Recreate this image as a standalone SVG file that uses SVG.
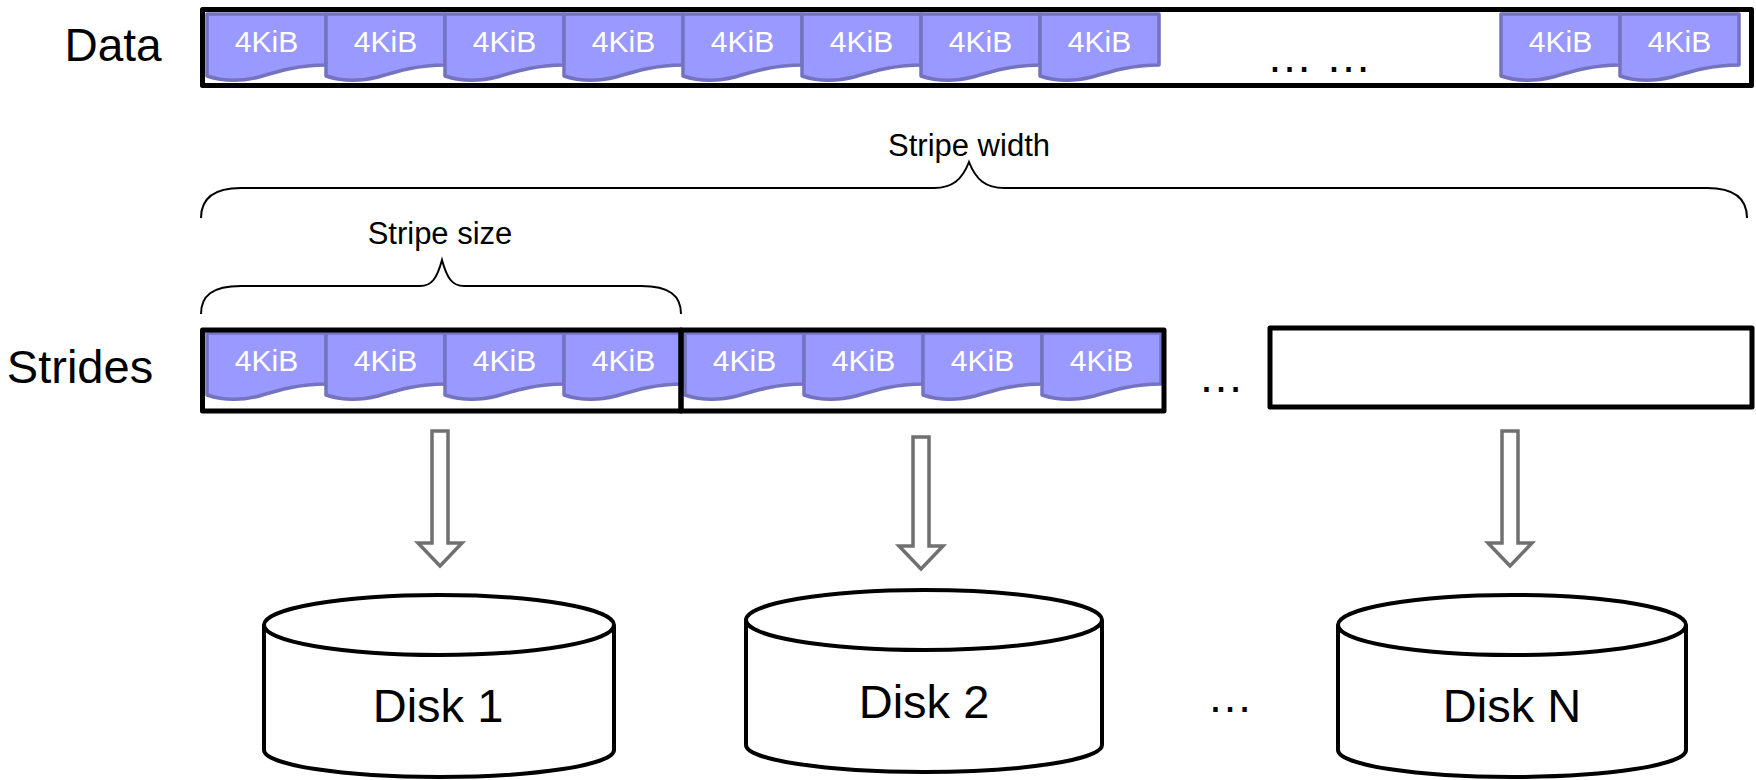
<svg xmlns="http://www.w3.org/2000/svg" width="1756" height="780" viewBox="0 0 1756 780">
<defs>
<path id="blk" d="M0,0 H119 V51 C92,51 72,57 52,63 C36,67 18,68 0,62 Z"/>
<g id="b4">
<use href="#blk" class="blk"/>
<text x="59.5" y="38" class="bt">4KiB</text>
</g>
</defs>
<style>
.blk{fill:#9999FF;stroke:#7373BF;stroke-width:3.5;stroke-linejoin:round}
.bt{font-family:"Liberation Sans",Arial,sans-serif;font-size:30px;fill:#FFFFFF;text-anchor:middle}
.lbl{font-family:"Liberation Sans",Arial,sans-serif;fill:#000;text-anchor:middle}
.box{fill:none;stroke:#000;stroke-width:5;stroke-linejoin:round}
.brace{fill:none;stroke:#000;stroke-width:2}
.arrow{fill:#FFFFFF;stroke:#707070;stroke-width:3.5}
.disk{fill:#FFFFFF;stroke:#000;stroke-width:4}
</style>
<rect width="1756" height="780" fill="#FFFFFF"/>

<g id="data">
<text x="113" y="61" class="lbl" font-size="46">Data</text>
<rect x="202.5" y="9.5" width="1549" height="76" class="box"/>
<use href="#b4" x="207" y="14"/>
<use href="#b4" x="326" y="14"/>
<use href="#b4" x="445" y="14"/>
<use href="#b4" x="564" y="14"/>
<use href="#b4" x="683" y="14"/>
<use href="#b4" x="802" y="14"/>
<use href="#b4" x="921" y="14"/>
<use href="#b4" x="1040" y="14"/>
<text x="1319" y="72" class="lbl" font-size="46">… …</text>
<use href="#b4" x="1501" y="14"/>
<use href="#b4" x="1620" y="14"/>
</g>

<g id="stripe-width">
<path class="brace" d="M201,218 C201,200 212,188 241,188 H934 C952,188 962,180 969,162 C976,180 986,188 1004,188 H1707 C1736,188 1747,200 1747,218"/>
<text x="969" y="156" class="lbl" font-size="31">Stripe width</text>
</g>

<g id="stripe-size">
<path class="brace" d="M201,314 C201,296 212,286 241,286 H420 C432,286 437,278 442,260 C447,278 452,286 464,286 H641 C670,286 681,296 681,314"/>
<text x="440" y="244" class="lbl" font-size="31">Stripe size</text>
</g>

<g id="strides">
<text x="80" y="383" class="lbl" font-size="47">Strides</text>
<use href="#b4" x="207" y="333"/>
<use href="#b4" x="326" y="333"/>
<use href="#b4" x="445" y="333"/>
<use href="#b4" x="564" y="333"/>
<use href="#b4" x="685" y="333"/>
<use href="#b4" x="804" y="333"/>
<use href="#b4" x="923" y="333"/>
<use href="#b4" x="1042" y="333"/>
<rect x="202.5" y="330" width="478.5" height="81" class="box"/>
<rect x="681" y="330" width="483" height="81" class="box"/>
<text x="1221" y="392" class="lbl" font-size="46">…</text>
<rect x="1270" y="328" width="482" height="79" class="box"/>
</g>

<g id="connectors">
<polygon class="arrow" points="432,431 448,431 448,543 462,543 440,566 418,543 432,543"/>
<polygon class="arrow" points="913,437 929,437 929,546 943,546 921,569 899,546 913,546"/>
<polygon class="arrow" points="1502,431 1518,431 1518,543 1532,543 1510,566 1488,543 1502,543"/>
</g>

<g id="disk1">
<path class="disk" d="M264,625 V750 A175,27 0 0 0 614,750 V625"/>
<ellipse class="disk" cx="439" cy="625" rx="175" ry="30"/>
<text x="438" y="722" class="lbl" font-size="47">Disk 1</text>
</g>
<g id="disk2">
<path class="disk" d="M746,620 V745 A178,27 0 0 0 1102,745 V620"/>
<ellipse class="disk" cx="924" cy="620" rx="178" ry="30"/>
<text x="924" y="718" class="lbl" font-size="47">Disk 2</text>
</g>
<text x="1230" y="712" class="lbl" font-size="46">…</text>
<g id="diskN">
<path class="disk" d="M1338,625 V750 A174,27 0 0 0 1686,750 V625"/>
<ellipse class="disk" cx="1512" cy="625" rx="174" ry="30"/>
<text x="1512" y="722" class="lbl" font-size="47">Disk N</text>
</g>
</svg>
